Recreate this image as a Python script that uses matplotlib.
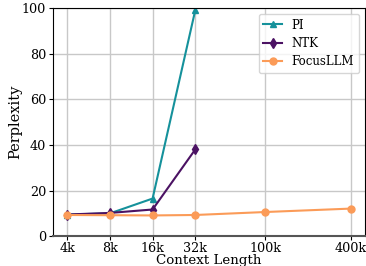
import numpy as np
import matplotlib
matplotlib.use("Agg")
import matplotlib.pyplot as plt

plt.rcParams['font.family'] = 'DejaVu Serif'

lengths = [4, 8, 16, 32, 100, 400]
tick_labels = ['4k', '8k', '16k', '32k', '100k', '400k']

pi_ppl = [9.5, 10.0, 16.5, 99.0]
ntk_ppl = [9.5, 10.2, 11.7, 38.0]
focus_ppl = [9.3, 9.2, 9.1, 9.3, 10.6, 12.1]

fig, ax = plt.subplots(figsize=(3.66, 2.66), dpi=100)
ax.plot(lengths[:4], pi_ppl, marker='^', color='#15919b', label='PI', markersize=5, linewidth=1.5)
ax.plot(lengths[:4], ntk_ppl, marker='d', color='#4b1263', label='NTK', markersize=5, linewidth=1.5)
ax.plot(lengths, focus_ppl, marker='o', color='#fb9b58', label='FocusLLM', markersize=5, linewidth=1.5)

ax.set_xscale('log', base=2)
ax.set_xticks(lengths)
ax.set_xticklabels(tick_labels)
ax.minorticks_off()
ax.set_ylim(0, 100)
ax.set_yticks([0, 20, 40, 60, 80, 100])
ax.grid(True, color='#c8c8c8', linewidth=1)
ax.set_axisbelow(True)
ax.spines['bottom'].set_color('#555555')
ax.spines['bottom'].set_linewidth(1.5)
ax.set_xlabel('Context Length', fontsize=9.6, labelpad=-0.6)
ax.set_ylabel('Perplexity', fontsize=10.5, labelpad=0)
ax.tick_params(labelsize=9.2, pad=2, length=3)
ax.tick_params(axis='x', pad=1.3)
ax.legend(loc='upper right', fontsize=8.5, handlelength=1.6, labelspacing=0.45)

plt.subplots_adjust(left=0.145, right=0.997, top=0.97, bottom=0.112)
plt.savefig('out.png')
